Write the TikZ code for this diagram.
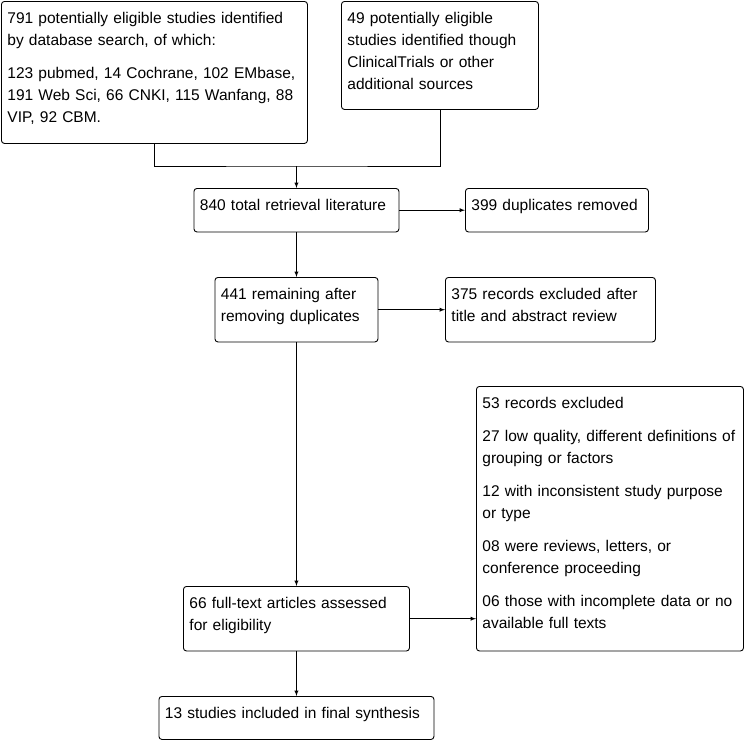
\documentclass[tikz,border=0pt]{standalone}
\usepackage{fontspec}
\setmainfont{Liberation Sans}
\usetikzlibrary{arrows}
\usetikzlibrary{calc}

\tikzset{
    box/.style={draw, rounded corners=3pt, anchor=north west, align=left,
        inner xsep=6pt, inner ysep=0pt, text height=22pt,
        font=\fontsize{15.5}{22}\selectfont},
}

\begin{document}
\begin{tikzpicture}[x=1pt, y=-1pt, >=latex, line width=0.9pt]
        \useasboundingbox (0,0) rectangle (744,740);

        \node[box, text width=294pt, text depth=120pt] (db) at (1,1)
            {791 potentially eligible studies identified\\
             by database search, of which:\\[11pt]
             123 pubmed, 14 Cochrane, 102 EMbase,\\
             191 Web Sci, 66 CNKI, 115 Wanfang, 88\\
             VIP, 92 CBM.};
        \node[box, text width=185pt, text depth=86pt] (other) at (341,1)
            {49 potentially eligible\\
             studies identified though\\
             ClinicalTrials or other\\
             additional sources};

        \node[box, text width=193pt, text depth=21.5pt] (total) at (193.5,188) {840 total retrieval literature};
        \node[box, text width=171pt, text depth=21.5pt] (dup) at (465,188) {399 duplicates removed};

        \node[box, text width=151pt, text depth=42.5pt] (remain) at (214.5,277)
            {441 remaining after\\ removing duplicates};
        \node[box, text width=198pt, text depth=42.5pt] (title) at (445,277)
            {375 records excluded after\\ title and abstract review};

        \node[box, text width=255pt, text depth=242.5pt] (excl) at (476,386)
            {53 records excluded\\[11pt]
             27 low quality, different definitions of\\ grouping or factors\\[11pt]
             12 with inconsistent study purpose\\ or type\\[11pt]
             08 were reviews, letters, or\\ conference proceeding\\[11pt]
             06 those with incomplete data or no\\ available full texts};

        \node[box, text width=214pt, text depth=42.5pt] (full) at (183,586)
            {66 full-text articles assessed\\ for eligibility};
        \node[box, text width=263pt, text depth=21pt] (final) at (158.5,696)
            {13 studies included in final synthesis};

        \coordinate (merge) at ($(total.north)+(0,-22)$);

        \draw (db.south) |- (merge) -| (other.south);
        \draw[->] (merge) -- (total.north);
        \draw[->] (total.east) -- (dup.west);
        \draw[->] (total.south) -- (remain.north);
        \draw[->] (remain.east) -- (title.west);
        \draw[->] (remain.south) -- (full.north);
        \draw[->] (full.east) -- (full.east -| excl.west);
        \draw[->] (full.south) -- (final.north);

\end{tikzpicture}
\end{document}
